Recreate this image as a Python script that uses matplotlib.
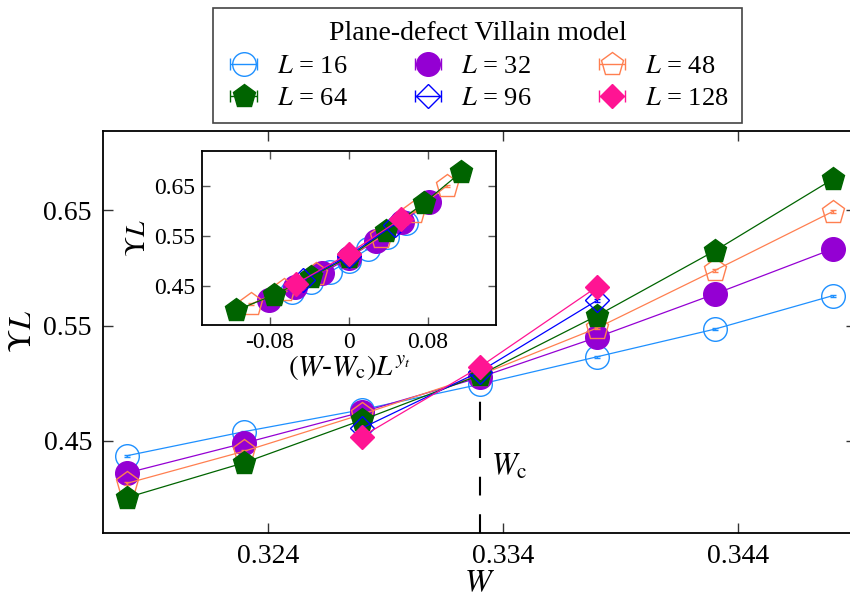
import numpy as np
import matplotlib.pyplot as plt

plt.rcParams['font.family'] = 'serif'
plt.rcParams['font.serif'] = ['Liberation Serif', 'DejaVu Serif']
plt.rcParams['mathtext.fontset'] = 'stix'
plt.rcParams['axes.unicode_minus'] = False

# Data
W = [0.318, 0.323, 0.328, 0.333, 0.338, 0.343, 0.348]
W_near = [0.328, 0.333, 0.338]
YL_16 = [0.437, 0.458, 0.477, 0.499, 0.523, 0.547, 0.576]
YL_32 = [0.422, 0.448, 0.475, 0.505, 0.540, 0.5775, 0.6165]
YL_48 = [0.413, 0.441, 0.473, 0.507, 0.548, 0.598, 0.649]
YL_64 = [0.4006, 0.431, 0.468, 0.507, 0.5587, 0.615, 0.677]
YL_96 = [0.461, 0.510, 0.572]
YL_128 = [0.4537, 0.514, 0.5838]
err = [0.0008, 0.001, 0.0012, 0.0012, 0.0015, 0.002]

sizes = [16, 32, 48, 64, 96, 128]
xs = [W, W, W, W, W_near, W_near]
ys = [YL_16, YL_32, YL_48, YL_64, YL_96, YL_128]

Wc = 0.333
yt = 0.4875

colors = ['#1E90FF', '#9400D3', '#FF7F50', '#006400', '#0000FF', '#FF1493']
markers = ['o', 'o', 'p', 'p', 'D', 'D']
filled = [False, True, False, True, False, True]
msizes = [17, 17, 17, 17, 12, 12]

fig = plt.figure(figsize=(8.5, 6), dpi=100)
ax = fig.add_axes([0.1212, 0.1117, 0.886, 0.67])
ins = fig.add_axes([0.2373, 0.4583, 0.3462, 0.29])

handles = []
for i, L in enumerate(sizes):
    c = colors[i]
    mfc = c if filled[i] else 'none'
    w = np.array(xs[i])
    y = np.array(ys[i])
    for a, xx in ((ax, w), (ins, (w - Wc) * L ** yt)):
        a.plot(xx, y, color=c, lw=0.9, zorder=2 + i)
        a.errorbar(xx, y, yerr=err[i], fmt=markers[i], ms=msizes[i], mfc=mfc,
                   mec=c, mew=1.0, ecolor=c, elinewidth=1, capsize=2.5,
                   zorder=2 + i)
    # legend proxy with horizontal bar
    h = ax.errorbar([np.nan], [np.nan], xerr=[1], fmt=markers[i], ms=msizes[i],
                    mfc=mfc, mec=c, mew=1.0, ecolor=c, elinewidth=1, capsize=4)
    handles.append(h)

# critical point marker
ax.plot([Wc, Wc], [0.37, 0.497], color='black', lw=1.5, dashes=(9, 9), zorder=1)
ax.text(0.3335, 0.4205, r'$W_{\rm c}$', fontsize=22, va='baseline')

ax.set_xlim(0.317, 0.349)
ax.set_ylim(0.370, 0.719)
ax.set_xticks([0.324, 0.334, 0.344])
ax.set_xticklabels(['0.324', '0.334', '0.344'])
ax.set_yticks([0.45, 0.55, 0.65])
ax.set_yticklabels(['0.45', '0.55', '0.65'])
ax.tick_params(direction='in', length=7, width=1, top=True, right=True,
               labelsize=20, pad=8, color='#333333')
ax.set_xlabel(r'$W$', fontsize=23, labelpad=0)
ax.set_ylabel(r'$\Upsilon L$', fontsize=23, labelpad=4)
for s in ax.spines.values():
    s.set_linewidth(1.3)

ins.set_xlim(-0.149, 0.149)
ins.set_ylim(0.371, 0.719)
ins.set_xticks([-0.08, 0, 0.08])
ins.set_xticklabels(['-0.08', '0', '0.08'])
ins.set_yticks([0.45, 0.55, 0.65])
ins.set_yticklabels(['0.45', '0.55', '0.65'])
ins.tick_params(direction='in', length=6, width=1, top=True, right=True,
                labelsize=17, pad=5, color='#555555')
ins.set_xlabel(r'$(W$-$W_{\rm c})L^{y_t}$', fontsize=21, labelpad=0)
ins.set_ylabel(r'$\Upsilon L$', fontsize=20, labelpad=2)
for s in ins.spines.values():
    s.set_linewidth(1.3)

order = [0, 3, 1, 4, 2, 5]
leg = ax.legend([handles[k] for k in order],
                [r'$L$ = %d' % sizes[k] for k in order],
                ncol=3, title='Plane-defect Villain model',
                loc='upper center', bbox_to_anchor=(0.5618, 0.9867),
                bbox_transform=fig.transFigure, borderaxespad=0,
                fontsize=19, title_fontsize=20,
                frameon=True, fancybox=False, edgecolor='#444444',
                handlelength=1.3, handletextpad=0.6, columnspacing=2.4,
                borderpad=0.5, labelspacing=0.32, framealpha=1)
leg.get_frame().set_linewidth(1.2)

fig.savefig('out.png', dpi=100)
